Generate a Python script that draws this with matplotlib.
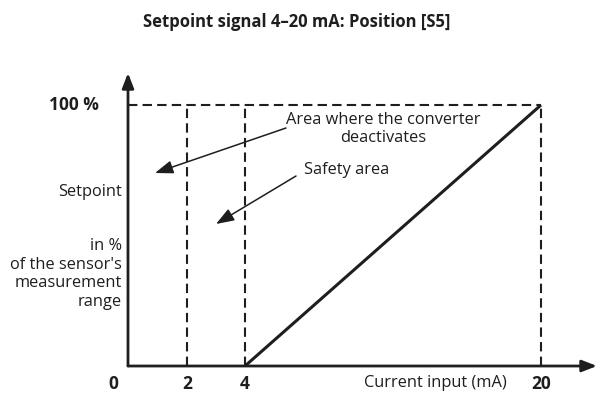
import matplotlib
matplotlib.use("Agg")
import matplotlib.pyplot as plt
import numpy as np

plt.rcParams["font.family"] = ["Open Sans", "DejaVu Sans"]

# current input (mA) ticks and their schematic spacing along the axis
current_ticks = [0, 2, 4, 20]
current_labels = ["0", "2", "4", "20"]
tick_spacing = [0, 59, 117, 413]
cutoff_lines = [2, 4, 20]

# setpoint characteristic: 4 mA -> 0 %, 20 mA -> 100 %
curve_ma = [4, 20]
curve_pct = [0, 100]
full_scale = 100

INK = "#1e1e1e"
W, H = 600, 394
FS = 11.8


def fp(x, y):
    """pixel position (from top-left) -> figure fraction"""
    return x / W, 1 - y / H


# piecewise-linear schematic scale for the current axis
bx = np.array(current_ticks + [24], dtype=float)
by = np.array(tick_spacing + [413 + 4 * 18.5], dtype=float)


def fwd(v):
    return np.interp(v, bx, by)


def inv(v):
    return np.interp(v, by, bx)


fig = plt.figure(figsize=(6, 3.94), dpi=100)
ax = fig.add_axes([128 / W, 28 / H, 469 / W, 293 / H])
ax.set_xscale("function", functions=(fwd, inv))
ax.set_xlim(0, inv(469))
ax.set_ylim(0, full_scale * 293 / 261)
ax.axis("off")

dash = dict(color=INK, lw=1.5, linestyle=(0, (4.5, 2.5)))
ax.plot([0, current_ticks[-1]], [full_scale, full_scale], **dash)
for c in cutoff_lines:
    ax.plot([c, c], [0, full_scale], **dash)

ax.plot(curve_ma, curve_pct, color=INK, lw=2.2, solid_capstyle="butt")

# axes with arrow heads
axis_arrow = dict(arrowstyle="-|>,head_length=0.9,head_width=0.35", color=INK,
                  lw=2, shrinkA=0, shrinkB=0)
ax.annotate("", xy=(1, 0), xytext=(0, 0), xycoords="axes fraction",
            arrowprops=axis_arrow)
ax.annotate("", xy=(0, 1), xytext=(0, 0), xycoords="axes fraction",
            arrowprops=axis_arrow)

# tick labels
for t, lab in zip(current_ticks, current_labels):
    if t == 0:
        fig.text(*fp(113, 384), lab, ha="center", va="center",
                 fontsize=12.5, fontweight="bold", color=INK)
    else:
        ax.annotate(lab, xy=(t, 0), xytext=(0, -13), textcoords="offset points",
                    ha="center", va="center", fontsize=12.5, fontweight="bold",
                    color=INK, annotation_clip=False)
ax.annotate(f"{full_scale} %", xy=(0, full_scale), xytext=(-21, 0),
            textcoords="offset points", ha="right", va="center",
            fontsize=12.5, fontweight="bold", color=INK, annotation_clip=False)

fig.text(*fp(297, 22), "Setpoint signal 4–20 mA: Position [S5]", ha="center",
         va="center", fontsize=12, fontweight="bold", color=INK)
fig.text(*fp(507, 383), "Current input (mA)", ha="right", va="center",
         fontsize=FS, color=INK)
fig.text(*fp(122, 192), "Setpoint", ha="right", va="center",
         fontsize=FS, color=INK)
fig.text(*fp(122, 274), "in %\nof the sensor's\nmeasurement\nrange", ha="right",
         va="center", fontsize=FS, color=INK, multialignment="right",
         linespacing=1.2)
fig.text(*fp(383, 129), "Area where the converter\ndeactivates", ha="center",
         va="center", fontsize=FS, color=INK, linespacing=1.15)
fig.text(*fp(347, 170), "Safety area", ha="center", va="center",
         fontsize=FS, color=INK)

pointer = dict(arrowstyle="-|>,head_length=1.1,head_width=0.4", color=INK,
               lw=1.1, shrinkA=0, shrinkB=0)
ax.annotate("", xy=fp(155, 173), xytext=fp(286, 128),
            xycoords="figure fraction", arrowprops=pointer)
ax.annotate("", xy=fp(216, 224), xytext=fp(296, 176),
            xycoords="figure fraction", arrowprops=pointer)

fig.savefig("out.png", dpi=100)
